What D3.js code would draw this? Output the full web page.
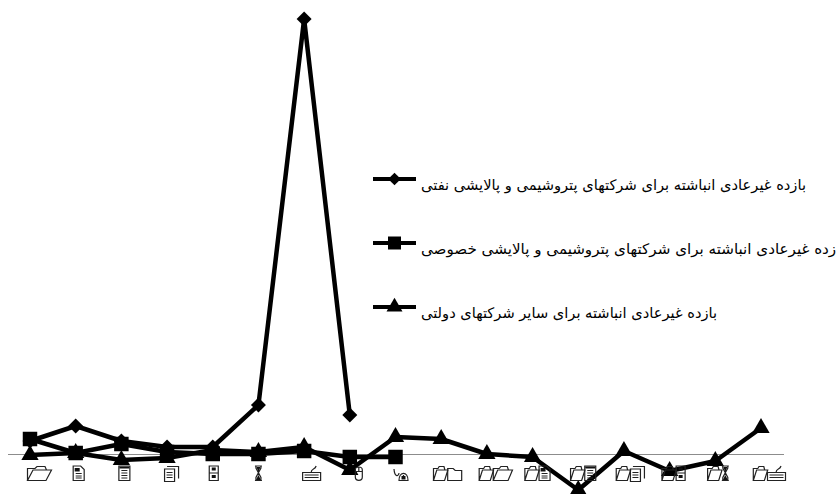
<!DOCTYPE html>
<html>
<head>
<meta charset="utf-8">
<script src="https://cdn.jsdelivr.net/npm/d3@7"></script>
<style>
  body { margin: 0; background: #fff; overflow: hidden; }
  svg { display: block; }
</style>
</head>
<body>
<script>
// abnormal return chart, the axis labels 1..17 were set in a pictograph font
const categories = ["1","2","3","4","5","6","7","8","9","10","11","12","13","14","15","16","17"];

const oilValues = [0.13, 0.28, 0.13, 0.07, 0.07, 0.49, 4.35, 0.39];
const privateValues = [0.15, 0.01, 0.10, 0.02, 0.00, 0.00, 0.03, -0.03, -0.03];
const stateValues = [-0.01, 0.01, -0.06, -0.04, 0.04, 0.02, 0.07, -0.16, 0.17, 0.15, 0.00, -0.03, -0.36, 0.03, -0.17, -0.07, 0.26];

const legendNames = [
  "بازده غیرعادی انباشته برای شرکتهای پتروشیمی و پالایشی نفتی",
  "بازده غیرعادی انباشته برای شرکتهای پتروشیمی و پالایشی خصوصی",
  "بازده غیرعادی انباشته برای سایر شرکتهای دولتی"
];
const legendWidths = [385, 424, 296];

const width = 836, height = 494;

const svg = d3.select("body").append("svg")
  .attr("width", width)
  .attr("height", height);

const x = d3.scalePoint().domain(categories).range([30, 761]);
const y = d3.scaleLinear().domain([-0.4, 4.54]).range([494, 0]);

// rotated square reads closer to the original diamond than d3.symbolDiamond
const seriesList = [
  {values: oilValues, symbol: d3.symbolSquare, size: 112, rotate: 45, legendSize: 80},
  {values: privateValues, symbol: d3.symbolSquare, size: 210, rotate: 0, legendSize: 169},
  {values: stateValues, symbol: d3.symbolTriangle, size: 130, rotate: 0, legendSize: 110}
];

// axis line, labels are added below as little pictures
const axis = svg.append("g")
  .attr("transform", `translate(0,${y(0)})`)
  .call(d3.axisBottom(x).tickSize(0).tickFormat(""));
axis.select(".domain")
  .attr("d", "M8,0.5H784")
  .attr("stroke", "#8c8c8c");

const line = d3.line()
  .x((d, i) => x(categories[i]))
  .y(d => y(d));

seriesList.forEach(s => {
  svg.append("path")
    .attr("d", line(s.values))
    .attr("fill", "none")
    .attr("stroke", "#000")
    .attr("stroke-width", 4.5)
    .attr("stroke-linejoin", "round");

  svg.append("g").selectAll("path")
    .data(s.values)
    .join("path")
    .attr("d", d3.symbol().type(s.symbol).size(s.size))
    .attr("transform", (d, i) => `translate(${x(categories[i])},${y(d)}) rotate(${s.rotate})`)
    .attr("fill", "#000");
});

// legend
const legendRows = [179, 243, 307];
legendNames.forEach((name, i) => {
  const row = svg.append("g").attr("transform", `translate(0,${legendRows[i]})`);
  row.append("line")
    .attr("x1", 373).attr("x2", 416)
    .attr("stroke", "#000").attr("stroke-width", 4);
  row.append("path")
    .attr("d", d3.symbol().type(seriesList[i].symbol).size(seriesList[i].legendSize))
    .attr("transform", `translate(394.5,0) rotate(${seriesList[i].rotate})`)
    .attr("fill", "#000");
  row.append("text")
    .attr("x", 421)
    .attr("y", 11)
    .attr("direction", "rtl")
    .attr("text-anchor", "end")
    .attr("font-family", "DejaVu Sans")
    .attr("font-size", 14.6)
    .attr("textLength", legendWidths[i])
    .attr("lengthAdjust", "spacingAndGlyphs")
    .attr("fill", "#000")
    .text(name);
});

// wingdings style digit pictures, 16 units high, f is the solid part
const glyphs = {
  "0": {w: 15, d: "M.5 15.5V3.5H6L8 5.5H14.5V15.5Z"},
  "1": {w: 25, d: "M.5 15.5V3.5H8L10 1.5H18L19.5 5H6L.5 15.5H19L24.5 5H19.5"},
  "2": {w: 12, d: "M.5 1V15.5H11.5V4.5L8 1ZM3 8.5H9M3 11H9M3 13H9", f: "M2 3H7V6.5H2Z"},
  "3": {w: 12, d: "M.5 1V15.5H11.5V1ZM3 5.5H9M3 8H9M3 10.5H9M3 13H9", f: "M1 1.5H11V3.5H1Z"},
  "4": {w: 15, d: "M.5 4V16.5H10.5V4ZM3 1.5H14.5V13.5M2.5 7.5H8.5M2.5 10H8.5M2.5 12.5H8.5"},
  "5": {w: 10, d: "M.5 1V15.5H9.5V1ZM.5 8H9.5", f: "M3 2.5H7V5.5H3ZM3 10H7V13H3Z"},
  "6": {w: 8, d: "M.5 1H7.5M.5 15.5H7.5M1.5 1V3L6.5 12.5V15.5M6.5 1V3L1.5 12.5V15.5", f: "M2 2H6L4 7ZM1.5 15L4 10L6.5 15Z"},
  "7": {w: 19, d: "M.5 7.5H18.5V15.5H.5ZM2.5 10H16.5M2.5 12.5H16.5M9 7.5C9 3 13 5 14 1"},
  "8": {w: 8, d: "M.5 5C.5 1 7.5 1 7.5 5V12C7.5 16.5 .5 16.5 .5 12ZM.5 6.5H7.5M4 1.5V6.5"},
  "9": {w: 15, d: "M.5 4C1 12 5 12 5.5 8M5.5 15.5C5.5 6 14.5 6 14.5 15.5ZM10 10V13", f: "M8 11H12V14.5H8Z"}
};

// single digit pictures do not all sit the same distance from the tick
const singleBearing = {"5": -1, "6": -1, "7": 1, "8": 8, "9": 1};

function drawGlyph(parent, ch, left, boxWidth) {
  const g = glyphs[ch];
  const t = `translate(${left},-1) scale(${boxWidth / g.w},1)`;
  parent.append("path")
    .attr("d", g.d)
    .attr("transform", t)
    .attr("fill", "none")
    .attr("stroke", "#222")
    .attr("stroke-width", 1.2)
    .attr("vector-effect", "non-scaling-stroke");
  if (g.f) {
    parent.append("path")
      .attr("d", g.f)
      .attr("transform", t)
      .attr("fill", "#111");
  }
}

svg.append("g").selectAll("g")
  .data(categories)
  .join("g")
  .attr("transform", d => `translate(${x(d)},466)`)
  .each(function(d) {
    const sel = d3.select(this);
    if (d.length === 1) {
      drawGlyph(sel, d, -3 + (singleBearing[d] || 0), glyphs[d].w);
    } else {
      drawGlyph(sel, d[0], -8, 15);
      drawGlyph(sel, d[1], 6, d[1] === "0" ? 15 : d[1] === "1" ? 20 : glyphs[d[1]].w);
    }
  });
</script>
</body>
</html>
